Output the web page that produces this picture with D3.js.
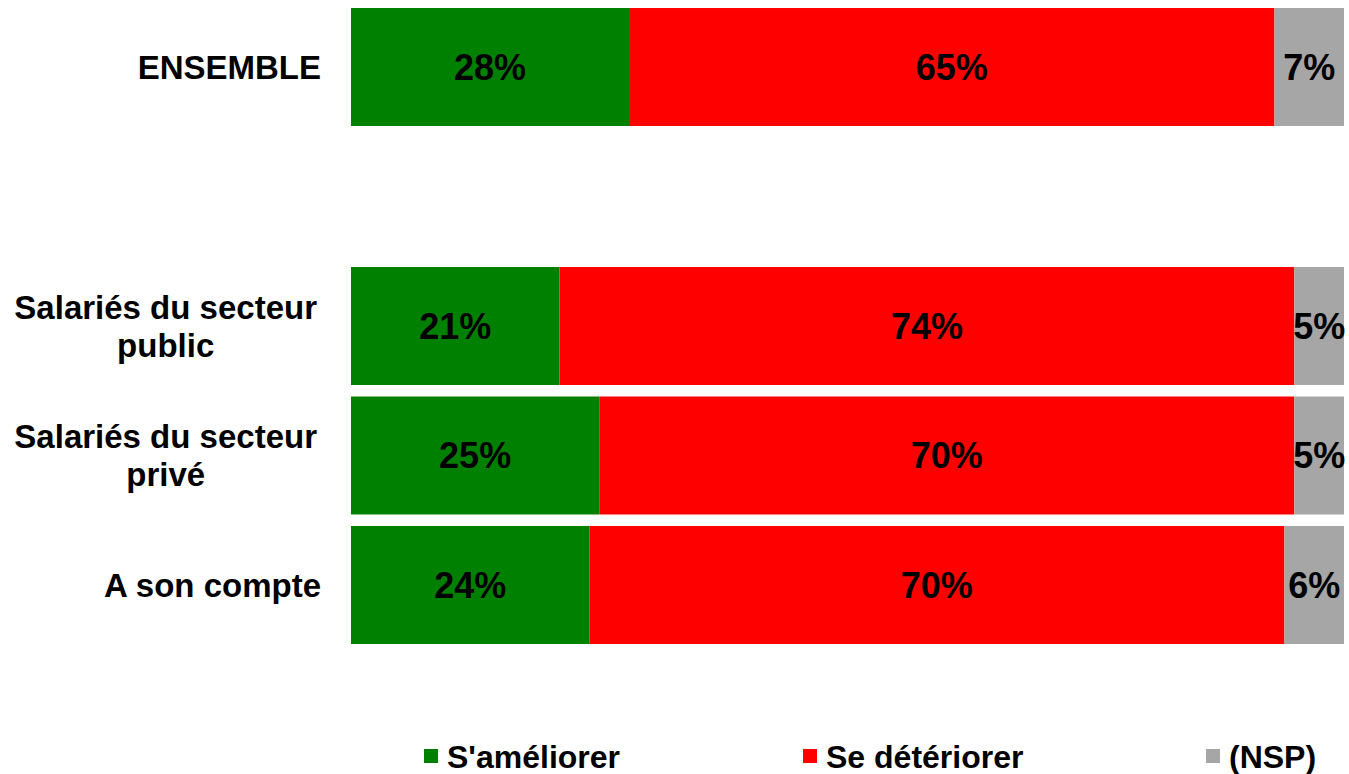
<!DOCTYPE html>
<html>
<head>
<meta charset="utf-8">
<script src="https://cdn.jsdelivr.net/npm/d3@7"></script>
<style>
  html, body { margin: 0; padding: 0; background: #fff; }
  svg { display: block; font-family: "Liberation Sans", Arial, sans-serif; }
</style>
</head>
<body>
<svg id="chart" width="1349" height="774"></svg>
<script>
// ---- data ----
const categories = ["ENSEMBLE", "", "Salariés du secteur public", "Salariés du secteur privé", "A son compte"];
const categoryLines = [["ENSEMBLE"], [], ["Salariés du secteur", "public"], ["Salariés du secteur", "privé"], ["A son compte"]];
const seriesNames = ["S'améliorer", "Se détériorer", "(NSP)"];
const ameliorer = [28, null, 21, 25, 24];
const deteriorer = [65, null, 74, 70, 70];
const nsp = [7, null, 5, 5, 6];
const colors = ["#008000", "#ff0000", "#a6a6a6"];

const svg = d3.select("#chart");

const x = d3.scaleLinear().domain([0, 100]).range([351, 1344]);
const y = d3.scaleBand().domain(d3.range(categories.length))
  .range([2.25, 649.75]).paddingInner(0.089).paddingOuter(0.0445);

const rows = categories.map((c, i) => ({ i, vals: [ameliorer[i], deteriorer[i], nsp[i]] }))
  .filter(r => r.vals[0] !== null);

const segs = [];
rows.forEach(r => {
  let acc = 0;
  r.vals.forEach((v, k) => {
    segs.push({ i: r.i, k, v, x0: acc, x1: acc + v });
    acc += v;
  });
});

svg.append("g").selectAll("rect").data(segs).join("rect")
  .attr("x", d => x(d.x0))
  .attr("y", d => y(d.i))
  .attr("width", d => x(d.x1) - x(d.x0))
  .attr("height", y.bandwidth())
  .attr("fill", d => colors[d.k]);

svg.append("g").selectAll("text").data(segs).join("text")
  .attr("x", d => (x(d.x0) + x(d.x1)) / 2)
  .attr("y", d => y(d.i) + y.bandwidth() / 2)
  .attr("dy", "0.36em")
  .attr("text-anchor", "middle")
  .attr("font-size", 36)
  .attr("font-weight", "bold")
  .attr("fill", "#000")
  .text(d => d.v + "%");

// category labels
const lh = 38;
categoryLines.forEach((lines, i) => {
  if (!lines.length) return;
  const labelRight = lines.length > 1 ? 317 : 321;
  const cy = y(i) + y.bandwidth() / 2;
  const g = svg.append("g");
  const texts = lines.map((l, j) => g.append("text")
    .attr("y", cy + (j - (lines.length - 1) / 2) * lh)
    .attr("dy", "0.36em")
    .attr("font-size", 33)
    .attr("font-weight", "bold")
    .attr("fill", "#000")
    .attr("text-anchor", "middle")
    .text(l));
  const widths = texts.map(t => t.node().getComputedTextLength());
  const maxW = d3.max(widths);
  texts.forEach(t => t.attr("x", labelRight - maxW / 2));
});

// legend
const legendX = [424, 803, 1206];
const lg = svg.append("g");
seriesNames.forEach((n, k) => {
  lg.append("rect").attr("x", legendX[k]).attr("y", 749).attr("width", 14).attr("height", 14).attr("fill", colors[k]);
  lg.append("text").attr("x", legendX[k] + 23).attr("y", 756).attr("dy", "0.36em")
    .attr("font-size", 32).attr("font-weight", "bold").attr("fill", "#000").text(n);
});
</script>
</body>
</html>
